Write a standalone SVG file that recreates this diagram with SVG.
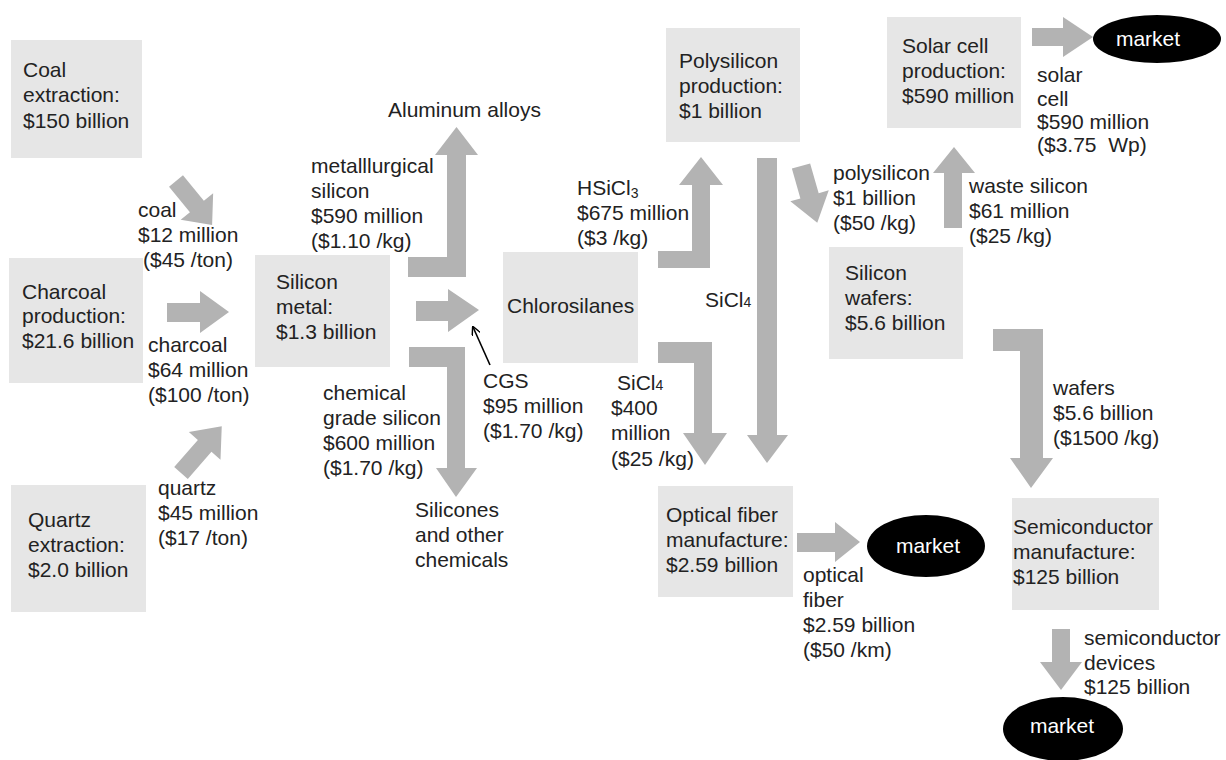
<svg xmlns="http://www.w3.org/2000/svg" width="1226" height="760" viewBox="0 0 1226 760">
<style>
text{font-family:"Liberation Sans",Arial,sans-serif;font-size:21px;fill:#222}
.box{fill:#e6e6e6}
.arr{fill:#b3b3b3}
.mk{fill:#000}
.mt{fill:#fff;text-anchor:middle}
.sub{font-size:14px}
</style>
<defs>
<marker id="ah" viewBox="0 0 10 10" refX="9" refY="5" markerWidth="9" markerHeight="9" orient="auto" markerUnits="userSpaceOnUse">
<path d="M0,0 L10,5 L0,10" fill="none" stroke="#000" stroke-width="1.6"/>
</marker>
</defs>
<rect width="1226" height="760" fill="#fff"/>

<g id="connectors">
<!-- coal -->
<polygon class="arr" transform="translate(176,181) rotate(50.7)" points="0,-9 33,-9 33,-21 57,0 33,21 33,9 0,9"/>
<!-- charcoal -->
<polygon class="arr" points="167,303 200,303 200,291 229,312 200,333 200,322 167,322"/>
<!-- quartz -->
<polygon class="arr" transform="translate(181,473) rotate(-48.9)" points="0,-9 36,-9 36,-21 62,0 36,21 36,9 0,9"/>
<!-- aluminum alloys -->
<polygon class="arr" points="408,257 447,257 447,155 435,155 456.5,127 478,155 466,155 466,277 408,277"/>
<!-- silicon metal to chlorosilanes -->
<polygon class="arr" points="416,301 448,301 448,289 479,310 448,332 448,321 416,321"/>
<!-- silicones -->
<polygon class="arr" points="409,347 465,347 465,468 477,468 456,497 436,468 447,468 447,367 409,367"/>
<!-- CGS -->
<line x1="490" y1="365" x2="473" y2="327" stroke="#000" stroke-width="1.6" marker-end="url(#ah)"/>
<!-- HSiCl3 -->
<polygon class="arr" points="658,251 692,251 692,185 679,185 701,157 723,185 710,185 710,268 658,268"/>
<!-- SiCl4 long -->
<polygon class="arr" points="757,158 777,158 777,435 788,435 767,463 747,435 757,435"/>
<!-- SiCl4 to optical fiber -->
<polygon class="arr" points="658,342 712,342 712,433 727,433 705,465 683,433 694,433 694,363 658,363"/>
<!-- polysilicon to wafers -->
<polygon class="arr" transform="translate(801,166) rotate(74)" points="0,-9.5 31,-9.5 31,-20 59,0 31,20 31,9.5 0,9.5"/>
<!-- waste silicon -->
<polygon class="arr" points="944,228 944,173 933,173 954,147 975,173 962,173 962,228"/>
<!-- solar cell to market -->
<polygon class="arr" points="1032,28 1063,28 1063,17 1093,37 1063,57 1063,46 1032,46"/>
<!-- wafers to semiconductor -->
<polygon class="arr" points="993,329 1043,329 1043,458 1053,458 1031,488 1010,458 1020,458 1020,351 993,351"/>
<!-- optical fiber to market -->
<polygon class="arr" points="797,533 835,533 835,522 860,542 835,562 835,552 797,552"/>
<!-- semiconductor to market -->
<polygon class="arr" points="1052,629 1070,629 1070,662 1082,662 1061,690 1040,662 1052,662"/>
</g>

<g id="coal-extraction">
<rect class="box" x="11" y="40" width="131" height="118"/>
<text x="23" y="77">Coal</text>
<text x="23" y="102">extraction:</text>
<text x="23" y="128">$150 billion</text>
</g>

<g id="charcoal-production">
<rect class="box" x="9" y="258" width="134" height="125"/>
<text x="22" y="299">Charcoal</text>
<text x="22" y="323">production:</text>
<text x="22" y="348">$21.6 billion</text>
</g>

<g id="quartz-extraction">
<rect class="box" x="11" y="485" width="135" height="127"/>
<text x="28" y="527">Quartz</text>
<text x="28" y="552">extraction:</text>
<text x="28" y="577">$2.0 billion</text>
</g>

<g id="silicon-metal">
<rect class="box" x="255" y="255" width="135" height="112"/>
<text x="276" y="289">Silicon</text>
<text x="276" y="314">metal:</text>
<text x="276" y="339">$1.3 billion</text>
</g>

<g id="chlorosilanes">
<rect class="box" x="503" y="252" width="135" height="111"/>
<text x="507" y="313">Chlorosilanes</text>
</g>

<g id="polysilicon-production">
<rect class="box" x="666" y="28" width="134" height="114"/>
<text x="679" y="68">Polysilicon</text>
<text x="679" y="93">production:</text>
<text x="679" y="118">$1 billion</text>
</g>

<g id="solar-cell-production">
<rect class="box" x="887" y="17" width="134" height="111"/>
<text x="902" y="53">Solar cell</text>
<text x="902" y="78">production:</text>
<text x="902" y="103">$590 million</text>
</g>

<g id="silicon-wafers">
<rect class="box" x="829" y="247" width="134" height="112"/>
<text x="845" y="280">Silicon</text>
<text x="845" y="305">wafers:</text>
<text x="845" y="330">$5.6 billion</text>
</g>

<g id="optical-fiber-manufacture">
<rect class="box" x="658" y="486" width="135" height="111"/>
<text x="666" y="522">Optical fiber</text>
<text x="666" y="547">manufacture:</text>
<text x="666" y="572">$2.59 billion</text>
</g>

<g id="semiconductor-manufacture">
<rect class="box" x="1012" y="498" width="147" height="112"/>
<text x="1013" y="534">Semiconductor</text>
<text x="1013" y="559">manufacture:</text>
<text x="1013" y="584">$125 billion</text>
</g>

<g id="market-solar">
<ellipse class="mk" cx="1157" cy="39" rx="64" ry="24"/>
<text class="mt" x="1148" y="46">market</text>
</g>

<g id="market-fiber">
<ellipse class="mk" cx="926" cy="546" rx="59" ry="31"/>
<text class="mt" x="928" y="553">market</text>
</g>

<g id="market-semiconductor">
<ellipse class="mk" cx="1063" cy="729" rx="60" ry="32"/>
<text class="mt" x="1062" y="733">market</text>
</g>

<g id="labels">
<text x="388" y="117">Aluminum alloys</text>
<text x="311" y="173">metalllurgical</text>
<text x="311" y="198">silicon</text>
<text x="311" y="223">$590 million</text>
<text x="311" y="248">($1.10 /kg)</text>

<text x="138" y="217">coal</text>
<text x="138" y="242">$12 million</text>
<text x="143" y="267">($45 /ton)</text>

<text x="148" y="352">charcoal</text>
<text x="148" y="377">$64 million</text>
<text x="148" y="402">($100 /ton)</text>

<text x="158" y="495">quartz</text>
<text x="158" y="520">$45 million</text>
<text x="158" y="545">($17 /ton)</text>

<text x="323" y="400">chemical</text>
<text x="323" y="425">grade silicon</text>
<text x="323" y="450">$600 million</text>
<text x="323" y="475">($1.70 /kg)</text>

<text x="415" y="517">Silicones</text>
<text x="415" y="542">and other</text>
<text x="415" y="567">chemicals</text>

<text x="483" y="388">CGS</text>
<text x="483" y="413">$95 million</text>
<text x="483" y="438">($1.70 /kg)</text>

<text x="617" y="390">SiCl<tspan class="sub">4</tspan></text>
<text x="611" y="415">$400</text>
<text x="611" y="440">million</text>
<text x="611" y="466">($25 /kg)</text>

<text x="577" y="195">HSiCl<tspan class="sub" dy="3">3</tspan></text>
<text x="577" y="220">$675 million</text>
<text x="577" y="245">($3 /kg)</text>

<text x="705" y="307">SiCl<tspan class="sub">4</tspan></text>

<text x="833" y="180">polysilicon</text>
<text x="833" y="205">$1 billion</text>
<text x="833" y="230">($50 /kg)</text>

<text x="969" y="193">waste silicon</text>
<text x="969" y="218">$61 million</text>
<text x="969" y="243">($25 /kg)</text>

<text x="1037" y="82">solar</text>
<text x="1037" y="106">cell</text>
<text x="1037" y="129">$590 million</text>
<text x="1037" y="152">($3.75&#160; Wp)</text>

<text x="1053" y="395">wafers</text>
<text x="1053" y="420">$5.6 billion</text>
<text x="1053" y="445">($1500 /kg)</text>

<text x="803" y="582">optical</text>
<text x="803" y="607">fiber</text>
<text x="803" y="632">$2.59 billion</text>
<text x="803" y="657">($50 /km)</text>

<text x="1084" y="645">semiconductor</text>
<text x="1084" y="670">devices</text>
<text x="1084" y="694">$125 billion</text>
</g>
</svg>
